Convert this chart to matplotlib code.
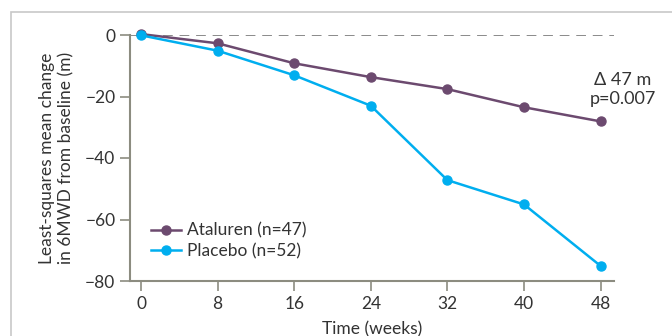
import matplotlib
matplotlib.use("Agg")
import matplotlib.pyplot as plt
from matplotlib.patches import Rectangle

weeks = [0, 8, 16, 24, 32, 40, 48]
ataluren = [0.3, -2.7, -9.2, -13.7, -17.6, -23.5, -28.1]
placebo = [-0.1, -5.1, -13.1, -23.0, -47.2, -55.1, -75.1]
yticks = [0, -20, -40, -60, -80]

purple = '#6c4a6f'
cyan = '#00aeef'
axis_col = '#8c8c80'
text_col = '#333333'

plt.rcParams['font.family'] = ['Lato', 'DejaVu Sans']

fig = plt.figure(figsize=(6.72, 3.36), dpi=100)
fig.patches.append(Rectangle((11/672, -0.1), 1.0, 1 - 12/336 + 0.1,
                             transform=fig.transFigure, fill=False,
                             edgecolor='#c8c8c8', lw=1.2))

ax = fig.add_axes([130/672, 55/336, 484/672, 246/336])
ax.axhline(0, color='#8a8a8a', lw=1.4, ls=(0, (5, 3.5)), zorder=1)
ax.plot(weeks, ataluren, color=purple, lw=1.8, marker='o', ms=6.5,
        label='Ataluren (n=47)', clip_on=False, zorder=3)
ax.plot(weeks, placebo, color=cyan, lw=1.8, marker='o', ms=6.5,
        label='Placebo (n=52)', clip_on=False, zorder=3)

ax.set_xlim(-1.15, 49.4)
ax.set_ylim(-80, 0)
ax.set_xticks(weeks)
ax.set_yticks(yticks)
ax.set_yticklabels(['0', '\u221220', '\u221240', '\u221260', '\u221280'])

for s in ['top', 'right']:
    ax.spines[s].set_visible(False)
for s in ['left', 'bottom']:
    ax.spines[s].set_color(axis_col)
    ax.spines[s].set_linewidth(1.5)
ax.tick_params(colors=axis_col, labelcolor=text_col, labelsize=12.5,
               length=7, width=1.2, direction='out')

ax.set_xlabel('Time (weeks)', fontsize=12.5, color=text_col, labelpad=7)
ax.set_ylabel('Least-squares mean change\nin 6MWD from baseline (m)',
              fontsize=12.5, color=text_col, labelpad=8, linespacing=1.2)

ax.text(50.3, -17.7, '\u0394 47 m\np=0.007', ha='center', va='center',
        fontsize=13, color=text_col, linespacing=1.25)

ax.legend(loc='lower left', bbox_to_anchor=(0.012, 0.025), frameon=False,
          fontsize=12.5, handlelength=1.7, handletextpad=0.35,
          labelspacing=0.25, labelcolor=text_col)

fig.savefig('out.png', dpi=100)
